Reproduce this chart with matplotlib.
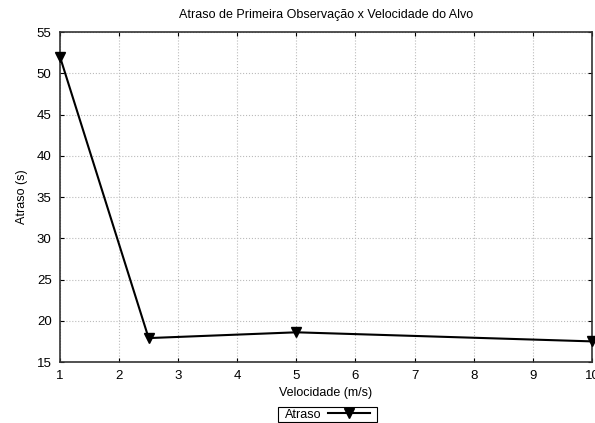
import matplotlib
matplotlib.use("Agg")
import matplotlib.pyplot as plt
from matplotlib.patches import Rectangle

plt.rcParams['font.family'] = ['Liberation Sans', 'DejaVu Sans']

velocidade = [1, 2.5, 5, 10]
atraso = [52.0, 17.9, 18.6, 17.5]
xticks = [1, 2, 3, 4, 5, 6, 7, 8, 9, 10]
yticks = [15, 20, 25, 30, 35, 40, 45, 50, 55]

fig = plt.figure(figsize=(5.95, 4.23), dpi=100)
ax = fig.add_axes([0.1008, 0.1442, 0.894, 0.7801])

ax.plot(velocidade, atraso, color='black', linewidth=1.5, marker='v',
        markersize=7, label='Atraso', clip_on=False, zorder=3)

ax.set_xlim(1, 10)
ax.set_ylim(15, 55)
ax.set_xticks(xticks)
ax.set_yticks(yticks)
ax.grid(True, linestyle=':', color='#bbbbbb', linewidth=0.8)
ax.tick_params(direction='in', top=True, right=True, labelsize=9.5, length=3, pad=6)
for s in ax.spines.values():
    s.set_linewidth(1.2)
    s.set_color('#333333')

ax.set_title('Atraso de Primeira Observação x Velocidade do Alvo', fontsize=9, pad=10)
ax.set_xlabel('Velocidade (m/s)', fontsize=9, labelpad=3)
ax.set_ylabel('Atraso (s)', fontsize=9, labelpad=6)

# legend without frame, then a box with wider side padding (gnuplot style)
leg = fig.legend(loc='center', bbox_to_anchor=(0.551, 0.020), fontsize=9,
                 markerfirst=False, frameon=False,
                 borderpad=0.0, handlelength=3.4, handletextpad=0.5, borderaxespad=0)
fig.canvas.draw()
bb = leg.get_window_extent()
padx, pady = 7, 1.5
W, H = fig.bbox.width, fig.bbox.height
fig.patches.append(Rectangle(((bb.x0 - padx) / W, (bb.y0 - pady) / H),
                             (bb.width + 2 * padx) / W, (bb.height + 2 * pady) / H,
                             transform=fig.transFigure, fill=False,
                             edgecolor='black', linewidth=0.8))

fig.savefig('out.png', dpi=100)
